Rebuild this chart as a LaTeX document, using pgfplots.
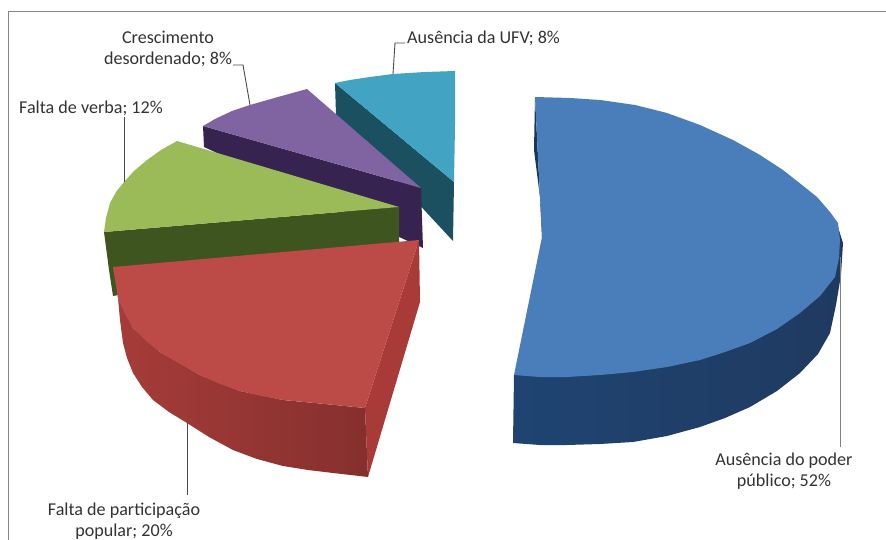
\documentclass[border=0pt]{standalone}
\usepackage{pgfplots}
\pgfplotsset{compat=1.18}
\usepackage{fontspec}
\setmainfont{Carlito}
\definecolor{bluetop}{HTML}{4A7EBB}
\definecolor{blueside}{HTML}{1F3A60}
\definecolor{blueleft}{HTML}{1F4472}
\definecolor{bluedark}{HTML}{17375E}
\definecolor{redtop}{HTML}{BC4A47}
\definecolor{redside}{HTML}{85302E}
\definecolor{redleft}{HTML}{A63C39}
\definecolor{redright}{HTML}{A83A37}
\definecolor{greentop}{HTML}{9BBB59}
\definecolor{greenside}{HTML}{3F5520}
\definecolor{purpletop}{HTML}{8064A2}
\definecolor{purpleside}{HTML}{36234F}
\definecolor{tealtop}{HTML}{42A3C2}
\definecolor{tealside}{HTML}{1B5060}
\definecolor{labelc}{HTML}{333333}
\definecolor{leader}{HTML}{4A4A4A}
\begin{document}
\begin{tikzpicture}
\begin{axis}[
  width=886pt, height=540pt, scale only axis,
  xmin=0, xmax=886, ymin=0, ymax=540, y dir=reverse,
  axis lines=none, clip=true,
  every axis plot/.append style={line width=0pt, draw=none},
]
\path (axis cs:0,0) rectangle (axis cs:886,540);
% frame
\addplot[draw=gray!95, line width=1.1pt, no marks] coordinates {(8.5,540) (8.5,11.5) (886,11.5)};
% teal
\addplot[fill=tealside, no marks] coordinates {(335,83) (454,182) (453,241) (336,115)} --cycle;
\addplot[fill=tealtop, no marks] coordinates {(335,83) (350,80) (370,77) (393,74) (425,72) (455,71) (455,125) (454,182)} --cycle;
% purple
\addplot[fill=purpleside, no marks] coordinates {(203,126) (421,188) (423,248) (204,147)} --cycle;
\addplot[fill=purpletop, no marks] coordinates {(203,126) (215,119) (232,111) (250,105) (278,97) (307,89) (421,188)} --cycle;
% green
\addplot[fill=greenside, no marks] coordinates {(104,232) (399,207) (399,245) (113,296) (109,270)} --cycle;
\addplot[fill=greentop, no marks] coordinates {(104,232) (106,218) (110,203) (116,192) (124,182) (134,171) (147,160) (161,150) (177,141) (399,207)} --cycle;
% red
\addplot[fill=redright, no marks] coordinates {(419,240) (365,408) (368,477) (420,302)} --cycle;
\addplot[left color=redleft, right color=redside, no marks] coordinates {(113,267) (118,298) (120,320) (123,343) (127,358) (133,373) (142,387) (153,400) (169,412) (187,423) (209,437) (233,450) (257,459) (283,466) (308,470) (333,473) (368,477) (365,408) (325,404) (283,400) (240,391) (200,375) (160,352) (133,328) (118,298)} --cycle;
\addplot[fill=redtop, no marks] coordinates {(419,240) (113,267) (118,298) (125,314) (133,328) (146,341) (160,352) (180,364) (200,375) (220,384) (240,391) (262,396) (283,400) (325,404) (365,408)} --cycle;
% blue
\addplot[fill=bluedark, no marks] coordinates {(535,97) (534,150) (542,213) (542,237)} --cycle;
\addplot[left color=blueleft, right color=blueside, no marks] coordinates {(514,375) (513,443) (540,445) (567,445) (600,444) (633,442) (667,436) (700,427) (725,418) (750,407) (777,391) (800,373) (818,354) (830,333) (836,305) (841,275) (843,243) (837,224) (820,250) (800,300) (750,330) (700,350) (633,365) (567,370) (540,370)} --cycle;
\addplot[fill=bluetop, no marks] coordinates {(535,97) (570,98) (600,100) (635,105) (667,113) (700,125) (733,140) (760,155) (783,170) (802,185) (817,197) (830,212) (838,223) (840,240) (839,258) (835,277) (820,296) (800,313) (777,329) (750,343) (725,352) (700,360) (667,367) (633,372) (600,375) (567,377) (540,377) (514,375) (542,237)} --cycle;
% leader lines
\addplot[draw=leader, line width=0.9pt, no marks] coordinates {(393,74) (395,43) (405,43)};
\addplot[draw=leader, line width=0.9pt, no marks] coordinates {(250,105) (243,65) (233,65)};
\addplot[draw=leader, line width=0.9pt, no marks] coordinates {(124,182) (124,117)};
\addplot[draw=gray, line width=0.9pt, no marks] coordinates {(840,257) (840,447)};
\addplot[draw=leader, line width=0.9pt, no marks] coordinates {(187,423) (187,495)};
% labels
\tikzset{lab/.style={text=labelc, font=\fontsize{18.1}{21.5}\selectfont, align=center, inner sep=0pt}}
\node[lab] at (axis cs:168,49) {Crescimento\\desordenado; 8\%};
\node[lab, anchor=west] at (axis cs:407,38) {Ausência da UFV; 8\%};
\node[lab, anchor=west] at (axis cs:19,108) {Falta de verba; 12\%};
\node[lab] at (axis cs:784,471) {Ausência do poder\\público; 52\%};
\node[lab] at (axis cs:124,521) {Falta de participação\\popular; 20\%};
\end{axis}
\end{tikzpicture}
\end{document}
